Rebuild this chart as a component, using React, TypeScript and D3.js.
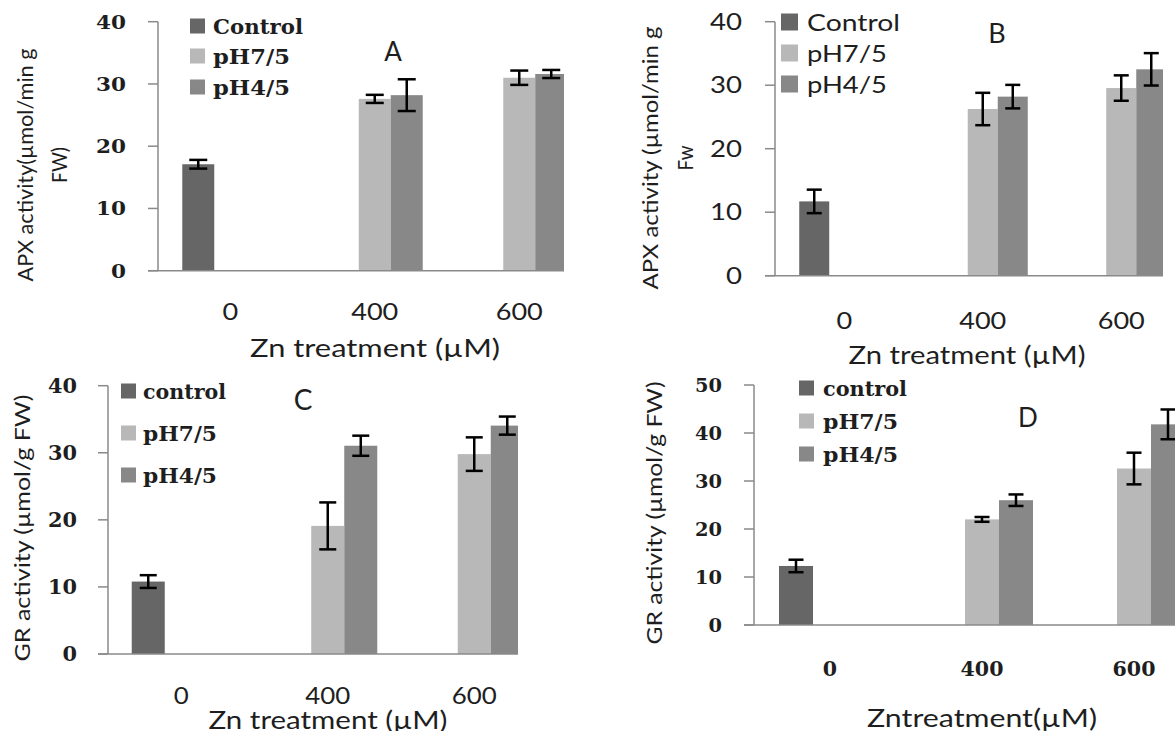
import React from "react";
import * as d3 from "d3";

// categories
const doses = ["0", "400", "600"];
const treatments = ["control", "pH7/5", "pH4/5"];
const legendUpper = ["Control", "pH7/5", "pH4/5"];
const legendLower = ["control", "pH7/5", "pH4/5"];
const ticks40 = [0, 10, 20, 30, 40];
const ticks50 = [0, 10, 20, 30, 40, 50];
const barColors = ["#666666", "#b8b8b8", "#888888"];

// rows = treatments, columns = doses (null = no bar)
const apxAMean = [[17.1, null, null], [null, 27.6, 31.0], [null, 28.2, 31.6]];
const apxAErr = [[0.7, null, null], [null, 0.65, 1.15], [null, 2.55, 0.65]];

const apxBMean = [[11.7, null, null], [null, 26.25, 29.55], [null, 28.2, 32.5]];
const apxBErr = [[1.85, null, null], [null, 2.55, 2.0], [null, 1.85, 2.55]];

const grCMean = [[10.8, null, null], [null, 19.1, 29.8], [null, 31.05, 34.05]];
const grCErr = [[0.95, null, null], [null, 3.5, 2.5], [null, 1.5, 1.35]];

const grDMean = [[12.3, null, null], [null, 22.0, 32.6], [null, 26.0, 41.8]];
const grDErr = [[1.3, null, null], [null, 0.5, 3.3], [null, 1.2, 3.1]];

const SANS = "Lato, 'Open Sans', sans-serif";
const SERIF = "'DejaVu Serif', serif";
const INK = "#1e1e1e";
const AXIS = "#8a8a8a";

type PanelCfg = {
  id: string;
  mean: (number | null)[][];
  err: (number | null)[][];
  ticks: number[];
  yMax: number;
  x0: number; step: number; pad: number; y0: number; yTop: number; clipRight: number;
  capW: number;
  tickRight: number; tickFont: string; tickWeight: string; tickSize: number; tickDigitW: number;
  catY: number; catFont: string; catWeight: string; catSize: number; catDigitW: number;
  title: string; titleX: number; titleY: number; titleSize: number;
  legend: string[]; legX: number; legYs: number[]; legSq: number; legTextX: number;
  legFont: string; legWeight: string; legSize: number; legWidths: number[];
  yLabel: string[]; yLabelX: number[]; yLabelY: number; yLabelSize: number; yLabelW: number[];
  xLabel: string; xLabelX: number; xLabelY: number; xLabelSize: number; xLabelW: number;
};

const panels: PanelCfg[] = [
  {
    id: "A", mean: apxAMean, err: apxAErr, ticks: ticks40, yMax: 40,
    x0: 158, step: 144.5, pad: 0.336, y0: 270.7, yTop: 21.7, clipRight: 564, capW: 18,
    tickRight: 126, tickFont: SERIF, tickWeight: "bold", tickSize: 19, tickDigitW: 15,
    catY: 311, catFont: SANS, catWeight: "normal", catSize: 24, catDigitW: 15.7,
    title: "A", titleX: 393, titleY: 52, titleSize: 26,
    legend: legendUpper, legX: 190, legYs: [26, 56, 87], legSq: 15, legTextX: 213,
    legFont: SERIF, legWeight: "bold", legSize: 21, legWidths: [90, 77, 77],
    yLabel: ["APX activity(µmol/min g", "FW)"], yLabelX: [25, 59], yLabelY: 165, yLabelSize: 21, yLabelW: [233, 36],
    xLabel: "Zn treatment (µM)", xLabelX: 375, xLabelY: 348, xLabelSize: 25, xLabelW: 250,
  },
  {
    id: "B", mean: apxBMean, err: apxBErr, ticks: ticks40, yMax: 40,
    x0: 775, step: 138.5, pad: 0.35, y0: 275.7, yTop: 21.7, clipRight: 1163, capW: 15,
    tickRight: 742, tickFont: SANS, tickWeight: "normal", tickSize: 23, tickDigitW: 16,
    catY: 320, catFont: SANS, catWeight: "normal", catSize: 24, catDigitW: 15.7,
    title: "B", titleX: 997, titleY: 33, titleSize: 27,
    legend: legendUpper, legX: 781, legYs: [22, 53, 84], legSq: 17, legTextX: 807,
    legFont: SANS, legWeight: "normal", legSize: 24, legWidths: [93, 80, 80],
    yLabel: ["APX activity (µmol/min g", "Fw"], yLabelX: [650, 685], yLabelY: 158, yLabelSize: 22, yLabelW: [263, 25],
    xLabel: "Zn treatment (µM)", xLabelX: 967, xLabelY: 355, xLabelSize: 25, xLabelW: 237,
  },
  {
    id: "C", mean: grCMean, err: grCErr, ticks: ticks40, yMax: 40,
    x0: 108, step: 146.5, pad: 0.324, y0: 654, yTop: 385.7, clipRight: 518, capW: 17,
    tickRight: 77, tickFont: SERIF, tickWeight: "bold", tickSize: 20, tickDigitW: 14.5,
    catY: 695, catFont: SANS, catWeight: "normal", catSize: 24, catDigitW: 15,
    title: "C", titleX: 303, titleY: 400, titleSize: 28,
    legend: legendLower, legX: 121, legYs: [391, 433, 475], legSq: 15, legTextX: 143,
    legFont: SERIF, legWeight: "bold", legSize: 21, legWidths: [83, 74, 74],
    yLabel: ["GR activity (µmol/g FW)"], yLabelX: [22], yLabelY: 528, yLabelSize: 22, yLabelW: [267],
    xLabel: "Zn treatment (µM)", xLabelX: 328, xLabelY: 720, xLabelSize: 25, xLabelW: 239,
  },
  {
    id: "D", mean: grDMean, err: grDErr, ticks: ticks50, yMax: 50,
    x0: 754, step: 152, pad: 0.329, y0: 625, yTop: 385, clipRight: 1175, capW: 15,
    tickRight: 722, tickFont: SERIF, tickWeight: "bold", tickSize: 19, tickDigitW: 13.5,
    catY: 668, catFont: SERIF, catWeight: "bold", catSize: 21, catDigitW: 14.3,
    title: "D", titleX: 1028, titleY: 418, titleSize: 26,
    legend: legendLower, legX: 799, legYs: [388, 421, 454], legSq: 15, legTextX: 823,
    legFont: SERIF, legWeight: "bold", legSize: 21, legWidths: [84, 75, 75],
    yLabel: ["GR activity (µmol/g FW)"], yLabelX: [654], yLabelY: 513, yLabelSize: 22, yLabelW: [263],
    xLabel: "Zntreatment(µM)", xLabelX: 982, xLabelY: 718, xLabelSize: 25, xLabelW: 230,
  },
];

function Txt(props: {
  x: number; y: number; text: string; size: number; family?: string; weight?: string;
  anchor?: string; width?: number; rotate?: boolean;
}) {
  const { x, y, text, size, family = SANS, weight = "normal", anchor = "middle", width, rotate } = props;
  return (
    <text
      x={rotate ? 0 : x}
      y={rotate ? 0 : y}
      transform={rotate ? `translate(${x},${y}) rotate(-90)` : undefined}
      dy="0.36em"
      textAnchor={anchor}
      fontFamily={family}
      fontWeight={weight}
      fontSize={size}
      fill={INK}
      textLength={width}
      lengthAdjust={width ? "spacingAndGlyphs" : undefined}
    >
      {text}
    </text>
  );
}

function Panel({ p }: { p: PanelCfg }) {
  const x = d3.scaleBand<string>()
    .domain(doses)
    .range([p.x0, p.x0 + p.step * doses.length])
    .paddingInner(p.pad)
    .paddingOuter(p.pad / 2);
  const xs = d3.scaleBand<string>().domain(treatments).range([0, x.bandwidth()]);
  const y = d3.scaleLinear().domain([0, p.yMax]).range([p.y0, p.yTop]);
  const clipId = "clip-" + p.id;
  const axisEnd = Math.min(p.clipRight, x.range()[1]);

  return (
    <g>
      <defs>
        <clipPath id={clipId}>
          <rect x={p.x0 - 20} y={0} width={p.clipRight - p.x0 + 20} height={731} />
        </clipPath>
      </defs>

      <g clipPath={`url(#${clipId})`}>
        {treatments.map((t, ti) =>
          doses.map((d, di) => {
            const v = p.mean[ti][di];
            if (v == null) return null;
            const bx = (x(d) as number) + (xs(t) as number);
            return (
              <rect key={t + d} x={bx} y={y(v)} width={xs.bandwidth()} height={y(0) - y(v)} fill={barColors[ti]} />
            );
          })
        )}
        {treatments.map((t, ti) =>
          doses.map((d, di) => {
            const v = p.mean[ti][di];
            const e = p.err[ti][di];
            if (v == null || e == null) return null;
            const cx = (x(d) as number) + (xs(t) as number) + xs.bandwidth() / 2;
            const hi = y(v + e);
            const lo = y(v - e);
            return (
              <g key={"e" + t + d} stroke="#000" strokeWidth={2.5}>
                <line x1={cx} x2={cx} y1={hi} y2={lo} />
                <line x1={cx - p.capW / 2} x2={cx + p.capW / 2} y1={hi} y2={hi} />
                <line x1={cx - p.capW / 2} x2={cx + p.capW / 2} y1={lo} y2={lo} />
              </g>
            );
          })
        )}
      </g>

      {/* axes */}
      <line x1={p.x0} x2={p.x0} y1={y(0)} y2={y(p.yMax)} stroke={AXIS} strokeWidth={1.5} />
      <line x1={p.x0 - 10} x2={axisEnd} y1={y(0)} y2={y(0)} stroke={AXIS} strokeWidth={1.5} />
      {p.ticks.map((t) => (
        <g key={"t" + t}>
          <line x1={p.x0 - 10} x2={p.x0} y1={y(t)} y2={y(t)} stroke={AXIS} strokeWidth={1.5} />
          <Txt x={p.tickRight} y={y(t)} text={String(t)} size={p.tickSize} family={p.tickFont}
            weight={p.tickWeight} anchor="end" width={String(t).length * p.tickDigitW} />
        </g>
      ))}
      {doses.map((d) => (
        <Txt key={"c" + d} x={(x(d) as number) + x.bandwidth() / 2} y={p.catY} text={d} size={p.catSize}
          family={p.catFont} weight={p.catWeight} width={d.length * p.catDigitW} />
      ))}

      {/* legend */}
      {p.legend.map((l, i) => (
        <g key={"l" + l}>
          <rect x={p.legX} y={p.legYs[i] - p.legSq / 2} width={p.legSq} height={p.legSq} fill={barColors[i]} />
          <Txt x={p.legTextX} y={p.legYs[i]} text={l} size={p.legSize} family={p.legFont}
            weight={p.legWeight} anchor="start" width={p.legWidths[i]} />
        </g>
      ))}

      <Txt x={p.titleX} y={p.titleY} text={p.title} size={p.titleSize} />

      {p.yLabel.map((line, i) => (
        <Txt key={"y" + i} x={p.yLabelX[i]} y={p.yLabelY} text={line} size={p.yLabelSize} rotate width={p.yLabelW[i]} />
      ))}
      <Txt x={p.xLabelX} y={p.xLabelY} text={p.xLabel} size={p.xLabelSize} width={p.xLabelW} />
    </g>
  );
}

export default function App() {
  return (
    <svg
      width={1175}
      height={731}
      style={{ position: "absolute", left: 0, top: 0, background: "#fff" }}
    >
      <rect x={0} y={0} width={1175} height={731} fill="#fff" />
      {panels.map((p) => (
        <Panel key={p.id} p={p} />
      ))}
    </svg>
  );
}
